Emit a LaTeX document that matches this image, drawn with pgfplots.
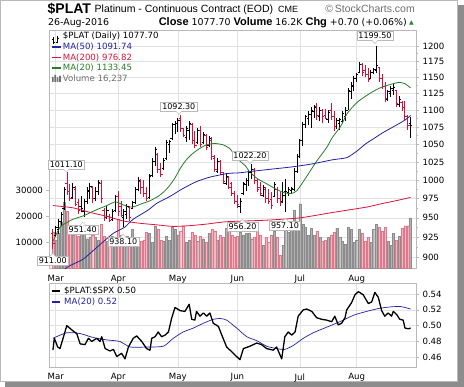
\documentclass[border=0pt]{standalone}
\usepackage{fontspec}
\setmainfont{Liberation Sans}
\newfontfamily\tickfont{DejaVu Sans}
\usepackage{pgfplots}
\pgfplotsset{compat=1.18}
\usepackage{pgfplotstable}

\definecolor{upc}{RGB}{0,0,0}
\definecolor{dnc}{RGB}{214,16,58}
\definecolor{manavy}{RGB}{35,35,160}
\definecolor{magreen}{RGB}{40,125,40}
\definecolor{mared}{RGB}{220,20,60}
\definecolor{gridc}{RGB}{226,226,226}
\definecolor{axc}{RGB}{185,185,185}
\definecolor{volup}{RGB}{178,178,178}
\definecolor{volupd}{RGB}{140,140,140}
\definecolor{voldn}{RGB}{242,184,192}
\definecolor{voldnd}{RGB}{222,120,140}
\definecolor{shadowc}{RGB}{140,140,140}
\definecolor{lblgray}{RGB}{110,110,110}
\definecolor{chggreen}{RGB}{30,140,60}

\pgfdeclareplotmark{otick}{\pgfpathmoveto{\pgfqpoint{-1.8pt}{0pt}}\pgfpathlineto{\pgfqpoint{0pt}{0pt}}\pgfusepathqstroke}
\pgfdeclareplotmark{ctick}{\pgfpathmoveto{\pgfqpoint{0pt}{0pt}}\pgfpathlineto{\pgfqpoint{1.8pt}{0pt}}\pgfusepathqstroke}

\pgfplotstableread{
i o h l c u v
-1 930 936 911 918 0 14000
0 928 940 925 938 1 11000
1 935 948 930 945 1 13500
2 945 958 940 955 1 18000
3 962 990 960 988 1 25500
4 995 1011.1 980 985 0 22000
5 985 995 972 975 0 14500
6 977 996 975 990 1 13000
7 988 992 965 968 0 15000
8 970 975 955 960 0 12500
9 965 978 958 962 1 14000
10 958 975 951.4 972 1 16000
11 972 990 968 986 1 11500
12 985 996 975 992 1 12000
13 990 992 970 975 0 13000
14 976 990 972 985 1 12000
15 985 1000 980 997 1 11000
16 996 1000 970 975 0 17000
17 960 963 946 950 0 12500
18 950 965 948 960 1 10500
19 952 955 944 946 0 11000
20 948 962 946 958 1 12500
21 960 980 958 978 1 12000
22 978 985 952 958 0 19000
23 965 972 951 953 0 13000
24 950 962 938.1 958 1 11500
25 955 968 948 965 1 12500
26 963 966 946 950 0 10000
27 962 972 961 970 1 15000
28 970 990 968 987 1 11000
29 988 1004 985 1000 1 12000
30 998 1002 981 990 0 10500
31 990 1000 977 982 0 11000
32 982 990 972 976 0 14000
33 977 1008 975 1005 1 13500
34 1006 1030 1004 1026 1 10000
35 1025 1046 1019 1042 1 16500
36 1035 1037 1009 1015 0 15000
37 1015 1023 1004 1008 0 11000
38 1016 1030 1014 1027 1 10500
39 1030 1056 1028 1052 1 12500
40 1050 1056 1037 1054 1 11000
41 1058 1081 1056 1078 1 16000
42 1078 1083 1065 1080 1 15000
43 1080 1088 1068 1085 1 13000
44 1088 1092.3 1068 1072 0 14500
45 1072 1074 1060 1063 0 16500
46 1060 1076 1053 1073 1 10000
47 1070 1083 1056 1080 1 11000
48 1078 1081 1051 1055 0 14000
49 1055 1069 1044 1048 0 13000
50 1052 1074 1051 1070 1 10500
51 1070 1076 1046 1050 0 12500
52 1052 1067 1051 1064 1 11500
53 1062 1065 1042 1046 0 10000
54 1048 1062 1046 1058 1 13500
55 1056 1060 1028 1032 0 15000
56 1030 1035 1011 1015 0 14500
57 1012 1030 1009 1025 1 11000
58 1025 1028 1007 1010 0 13000
59 1010 1011 995 998 0 12000
60 996 1009 993 1005 1 15500
61 1004 1006 988 990 0 16000
62 996 998 978 982 0 13000
63 982 985 968 972 0 12000
64 972 980 963 968 0 12500
65 965 976 956.2 972 1 14000
66 982 997 980 995 1 13000
67 994 1003 985 1000 1 13500
68 1000 1014 992 1010 1 13500
69 1010 1022.2 1002 1015 1 11500
70 1014 1016 995 1000 0 12000
71 1000 1002 984 988 0 14500
72 990 997 979 982 0 13000
73 980 993 977 990 1 9000
74 988 990 970 975 0 12000
75 976 988 968 972 0 10000
76 974 984 962 966 0 13000
77 978 997 977 994 1 14500
78 988 990 970 976 0 12000
79 975 984 966 970 0 5000
80 972 997 970 980 1 9000
81 985 1002 957.1 985 1 18000
82 984 990 979 988 1 14000
83 986 990 982 989 1 15500
84 988 1016 985 1012 1 22500
85 1012 1036 1010 1032 1 17000
86 1032 1058 1030 1055 1 25000
87 1055 1082 1048 1078 1 17000
88 1078 1093 1073 1090 1 16000
89 1088 1098 1078 1094 1 13000
90 1094 1105 1074 1100 1 15500
91 1098 1108 1088 1104 1 13000
92 1106 1110 1085 1092 0 14500
93 1090 1105 1083 1100 1 12000
94 1100 1102 1081 1090 0 10500
95 1092 1102 1086 1088 0 11000
96 1086 1100 1081 1096 1 12000
97 1100 1110 1085 1090 0 13000
98 1090 1098 1069 1075 0 14000
99 1075 1088 1072 1084 1 15500
100 1080 1088 1071 1086 1 12000
101 1083 1098 1081 1095 1 10500
102 1090 1105 1083 1100 1 9500
103 1100 1133 1100 1130 1 16000
104 1128 1142 1116 1138 1 15000
105 1135 1152 1128 1148 1 10000
106 1148 1157 1143 1154 1 11000
107 1158 1174 1157 1170 1 15000
108 1170 1173 1152 1158 0 13500
109 1160 1170 1150 1155 0 10500
110 1155 1165 1142 1146 0 12000
111 1148 1162 1148 1158 1 10000
112 1157 1165 1155 1162 1 15000
113 1160 1199.5 1157 1168 1 17000
114 1165 1166 1142 1148 0 16000
115 1148 1155 1132 1135 0 14500
116 1135 1142 1112 1118 0 16000
117 1116 1131 1114 1128 1 10500
118 1125 1136 1119 1132 1 9000
119 1130 1139 1122 1134 1 13500
120 1130 1131 1105 1110 0 11000
121 1108 1121 1105 1116 1 12500
122 1112 1113 1098 1104 0 15500
123 1104 1113 1085 1090 0 16500
124 1090 1093 1071 1077 0 16500
125 1080 1090 1059 1077.7 1 19500
}\ohlc

\pgfplotsset{
  panel/.style={scale only axis, anchor=south west, width=366.5pt,
    xmin=-2.2, xmax=126.9, clip=true},
  tickf/.style={ticklabel style={font=\tickfont\fontsize{8.6}{9}\selectfont}},
}
\tikzset{
  lbl/.style={draw=axc, fill=white, inner xsep=1.6pt, inner ysep=1.3pt,
    font=\tickfont\fontsize{8}{8}\selectfont},
  legf/.style={anchor=base west, inner sep=0pt, font=\tickfont\fontsize{8.6}{9}\selectfont},
}

\begin{document}
\begin{tikzpicture}[x=1pt,y=1pt]
\fill[shadowc] (5,0) rectangle (464,382);
\filldraw[fill=white, draw=axc] (0.5,5.5) rectangle (457.5,386.5);
\path[use as bounding box] (0,0) rectangle (464,387);

% ---- main panel: grid and price scale
\begin{axis}[panel, tickf, at={(49.5pt,118.5pt)}, height=238.5pt,
  ymode=log, ymin=886.9, ymax=1226.4,
  xtick={0,22,43,64,86,106}, xticklabels={Mar,Apr,May,Jun,Jul,Aug},
  x tick style={draw=none},
  ytick={900,925,950,975,1000,1025,1050,1075,1100,1125,1150,1175,1200},
  yticklabels={900,925,950,975,1000,1025,1050,1075,1100,1125,1150,1175,1200},
  minor ytick={912.5,937.5,962.5,987.5,1012.5,1037.5,1062.5,1087.5,1112.5,1137.5,1162.5,1187.5},
  ytick pos=right, yticklabel pos=right,
  tick align=outside, major tick length=3pt, minor tick length=1.8pt,
  y tick style={axc, line width=0.6pt},
  grid=major, major grid style={gridc, line width=0.6pt},
  axis line style={axc, line width=0.8pt},
]
\end{axis}

% ---- volume
\begin{axis}[panel, tickf, at={(49.5pt,118.5pt)}, height=238.5pt,
  ymin=0, ymax=92000,
  axis x line=none, axis y line*=left,
  ytick={10000,20000,30000}, yticklabels={10000,20000,30000},
  scaled y ticks=false,
  tick align=outside, major tick length=3pt,
  y tick style={axc, line width=0.6pt},
  axis line style={axc, line width=0.8pt},
]
\addplot[ybar, bar width=2.1pt, bar shift=0pt, fill=volup, draw=volupd, line width=0.35pt,
  restrict expr to domain={\thisrow{u}}{1:1}] table[x=i, y=v] {\ohlc};
\addplot[ybar, bar width=2.1pt, bar shift=0pt, fill=voldn, draw=voldnd, line width=0.35pt,
  restrict expr to domain={\thisrow{u}}{0:0}] table[x=i, y=v] {\ohlc};
\end{axis}

% ---- price bars and moving averages
\begin{axis}[panel, at={(49.5pt,118.5pt)}, height=238.5pt,
  ymode=log, ymin=886.9, ymax=1226.4, hide axis]
\addplot[only marks, mark=ctick, color=upc, mark options={line width=0.9pt},
  restrict expr to domain={\thisrow{u}}{1:1},
  error bars/.cd, y dir=both, y explicit, error mark=none,
  error bar style={line width=0.9pt, color=upc}]
  table[x=i, y=c, y error plus expr=\thisrow{h}-\thisrow{c}, y error minus expr=\thisrow{c}-\thisrow{l}] {\ohlc};
\addplot[only marks, mark=otick, color=upc, mark options={line width=0.9pt},
  restrict expr to domain={\thisrow{u}}{1:1}] table[x=i, y=o] {\ohlc};
\addplot[only marks, mark=ctick, color=dnc, mark options={line width=0.9pt},
  restrict expr to domain={\thisrow{u}}{0:0},
  error bars/.cd, y dir=both, y explicit, error mark=none,
  error bar style={line width=0.9pt, color=dnc}]
  table[x=i, y=c, y error plus expr=\thisrow{h}-\thisrow{c}, y error minus expr=\thisrow{c}-\thisrow{l}] {\ohlc};
\addplot[only marks, mark=otick, color=dnc, mark options={line width=0.9pt},
  restrict expr to domain={\thisrow{u}}{0:0}] table[x=i, y=o] {\ohlc};
% MA(200)
\addplot[mared, line width=0.8pt, smooth, tension=0.4] coordinates {
(-1,966) (6.1,963) (12.1,957) (18,952) (23.7,946) (29.7,943) (35.6,941) (41.3,939)
(47.3,940) (53.2,942) (60.2,945) (74.3,947) (86,950) (97.6,957) (109.5,964) (114.2,968) (120,972.5) (125,976.82)};
% MA(50)
\addplot[manavy, line width=0.8pt, smooth, tension=0.4] coordinates {
(1,878) (4.3,889) (9.6,898) (14.9,914) (20.2,930) (24.3,938) (27.2,948) (32.5,960) (35.6,969)
(40.2,978) (44.5,988) (49.6,998) (54.3,1004) (60.5,1009) (64.9,1010) (69,1012) (76,1015)
(83,1018) (90,1022) (97.5,1028) (102.5,1031) (106,1040) (109,1050) (112,1058) (115,1066)
(118,1073) (121,1080) (123,1085) (125,1091.74)};
% MA(20)
\addplot[magreen, line width=0.8pt, smooth, tension=0.4] coordinates {
(-1,920) (1.5,938) (4,944) (6,948) (10,953) (14,960) (18,966) (21,971) (23,968) (26,964)
(28,965) (30,968) (33,972) (36,978) (38,984) (40,992) (42,1003) (44,1017) (46,1028)
(48,1036) (50,1042) (53,1049) (56,1051) (59,1049) (61.5,1043) (63.8,1030) (66.7,1020)
(68.4,1011) (71,1002) (74.3,995) (77.5,988) (80.5,983) (83,982) (85,986) (88.4,1005)
(91.9,1026) (95.4,1045) (97.5,1060) (100.4,1076) (102.7,1095) (106.3,1112) (111,1126)
(114.5,1134) (118,1139) (121,1142) (123,1140) (125,1133.45)};
\end{axis}

% ---- lower panel: ratio
\begin{axis}[panel, tickf, at={(49.5pt,20pt)}, height=84pt,
  ymin=0.44774, ymax=0.55391,
  xtick={0,22,43,64,86,106}, xticklabels={Mar,Apr,May,Jun,Jul,Aug},
  x tick style={draw=none},
  ytick={0.46,0.48,0.50,0.52,0.54}, yticklabels={0.46,0.48,0.50,0.52,0.54},
  ytick pos=right, yticklabel pos=right,
  tick align=outside, major tick length=3pt,
  y tick style={axc, line width=0.6pt},
  grid=major, major grid style={gridc, line width=0.6pt},
  axis line style={axc, line width=0.8pt},
]
\addplot[manavy, line width=0.7pt, smooth, tension=0.4] coordinates {
(-1,0.484) (3.9,0.491) (8.6,0.490) (13.2,0.485) (17.9,0.482) (22.6,0.480) (26.2,0.473)
(32,0.473) (37.9,0.474) (41.4,0.484) (44.9,0.492) (48.5,0.497) (52,0.503) (55.5,0.508)
(57.9,0.509) (60.2,0.507) (63.7,0.497) (67.3,0.486) (70.8,0.481) (74.3,0.474) (77.8,0.471)
(80.7,0.470) (83.7,0.475) (87.2,0.484) (90.7,0.491) (95.4,0.498) (100.1,0.505) (104.8,0.513)
(109.5,0.518) (114.2,0.522) (118.9,0.524) (121.8,0.524) (125,0.521)};
\addplot[black, line width=1.3pt, line join=round] coordinates {
(-1,0.469) (-0.5,0.484) (0.7,0.473) (1.5,0.471) (3.9,0.500) (6.2,0.493) (7.4,0.490) (8.6,0.477)
(10.3,0.476) (11.5,0.484) (12.7,0.480) (14.4,0.484) (15.6,0.480) (16.2,0.486) (17.4,0.471)
(19.1,0.468) (20.3,0.470) (21.5,0.461) (23.2,0.465) (24.4,0.458) (25.6,0.473) (27.3,0.484)
(28.5,0.487) (30.3,0.480) (32,0.471) (33.2,0.469) (33.8,0.484) (35,0.486) (36.1,0.492)
(37.3,0.486) (38.5,0.488) (39.7,0.492) (40.8,0.509) (42,0.523) (43.8,0.519) (45.5,0.518)
(47,0.527) (47.9,0.508) (49,0.507) (49.6,0.518) (50.8,0.512) (52,0.516) (53.2,0.512)
(54.3,0.516) (55.5,0.503) (57.3,0.499) (58.5,0.488) (60.2,0.473) (62,0.467) (63.7,0.461)
(64.9,0.457) (66.1,0.471) (68.4,0.474) (70.8,0.478) (72.5,0.476) (74.3,0.471) (76.6,0.469)
(77.8,0.473) (79.6,0.458) (80.7,0.486) (81.9,0.492) (83.1,0.488) (84.3,0.492) (85.4,0.512)
(87.2,0.520) (88.4,0.521) (90.2,0.518) (91.9,0.510) (93.7,0.508) (95.4,0.507) (97.2,0.505)
(98.3,0.512) (99.5,0.501) (100.7,0.503) (101.9,0.510) (102.5,0.520) (104.2,0.529) (105.4,0.539)
(106.6,0.543) (108.3,0.539) (110.1,0.528) (111.3,0.530) (112.4,0.542) (113.6,0.536) (114.8,0.519)
(115.9,0.512) (117.1,0.516) (118.3,0.512) (118.9,0.518) (120.1,0.514) (121.2,0.508) (122.4,0.507)
(123,0.497) (124.2,0.496) (125,0.497)};
\end{axis}

% ---- titles
\node[anchor=base west, inner sep=0pt, font=\bfseries\fontsize{14}{14}\selectfont] at (47.5,373.5) {\$PLAT};
\node[anchor=base west, inner sep=0pt, font=\fontsize{10.5}{10.5}\selectfont] at (94.5,374.3) {Platinum - Continuous Contract (EOD)};
\node[anchor=base west, inner sep=0pt, font=\fontsize{9}{9}\selectfont] at (278,374.3) {CME};
\node[anchor=base east, inner sep=0pt, font=\fontsize{10.5}{10.5}\selectfont, text=lblgray] at (415,374.3) {\textcopyright\,StockCharts.com};
\node[anchor=base west, inner sep=0pt, font=\tickfont\fontsize{9.4}{9.4}\selectfont] at (48,361) {26-Aug-2016};
\node[anchor=base east, inner sep=0pt, font=\tickfont\fontsize{9.4}{9.4}\selectfont] at (407,361)
  {{\rmfamily\bfseries\fontsize{11}{11}\selectfont Close} 1077.70 {\rmfamily\bfseries\fontsize{11}{11}\selectfont Volume} 16.2K {\rmfamily\bfseries\fontsize{11}{11}\selectfont Chg} +0.70 (+0.06\%)};
\node[anchor=base west, inner sep=0pt, text=chggreen, font=\tickfont\fontsize{6}{6}\selectfont] at (409,362) {▲};

% ---- main legend
\draw[black, line width=0.8pt] (53.5,342.5)--(53.5,350) (52.3,347.5)--(53.5,347.5) (53.5,344.5)--(54.7,344.5)
  (57.5,343.5)--(57.5,350.5) (56.3,345)--(57.5,345) (57.5,348.5)--(58.7,348.5);
\node[legf] at (62.7,348) {\$PLAT (Daily) 1077.70};
\draw[manavy, line width=1.8pt] (51.5,340.3) -- (60.5,340.3);
\node[legf, text=manavy] at (62.7,337.5) {MA(50) 1091.74};
\draw[mared, line width=1.8pt] (51.5,329.5) -- (60.5,329.5);
\node[legf, text=mared] at (62.7,326.5) {MA(200) 976.82};
\draw[magreen, line width=1.8pt] (51.5,319) -- (60.5,319);
\node[legf, text=magreen] at (62.7,316) {MA(20) 1133.45};
\fill[lblgray] (52,305) rectangle (53.6,310) (54.4,305) rectangle (56,312) (56.8,305) rectangle (58.4,309.5) (59.2,305) rectangle (60.8,311);
\node[legf, text=lblgray] at (62.7,305) {Volume 16,237};

% ---- lower legend
\draw[black, line width=1.8pt] (51.7,96) -- (60,96);
\node[legf] at (64,93) {\$PLAT:\$SPX 0.50};
\draw[manavy, line width=1.8pt] (51.7,85) -- (60,85);
\node[legf, text=manavy] at (64,82) {MA(20) 0.52};

% ---- value callouts
\node[lbl] (a1) at (66.3,222.5) {1011.10};
\node[lbl] (a2) at (178.8,280.3) {1092.30};
\node[lbl] (a3) at (250,231) {1022.20};
\node[lbl] (a4) at (375,351) {1199.50};
\node[lbl] (b1) at (82.7,157.3) {951.40};
\node[lbl] (b2) at (123.3,145.3) {938.10};
\node[lbl] (b3) at (242.5,160.3) {956.20};
\node[lbl] (b4) at (285,161) {957.10};
\node[lbl] (b5) at (52.8,126) {911.00};
\foreach \n in {a1,a2,a3,a4}{
  \fill[white] ([xshift=-3pt,yshift=0.4pt]\n.south) -- ([yshift=-3pt]\n.south) -- ([xshift=3pt,yshift=0.4pt]\n.south) -- cycle;
  \draw[axc] ([xshift=-3pt]\n.south) -- ([yshift=-3pt]\n.south) -- ([xshift=3pt]\n.south);
}
\foreach \n in {b1,b2,b3,b4,b5}{
  \fill[white] ([xshift=-3pt,yshift=-0.4pt]\n.north) -- ([yshift=3pt]\n.north) -- ([xshift=3pt,yshift=-0.4pt]\n.north) -- cycle;
  \draw[axc] ([xshift=-3pt]\n.north) -- ([yshift=3pt]\n.north) -- ([xshift=3pt]\n.north);
}
\end{tikzpicture}
\end{document}
